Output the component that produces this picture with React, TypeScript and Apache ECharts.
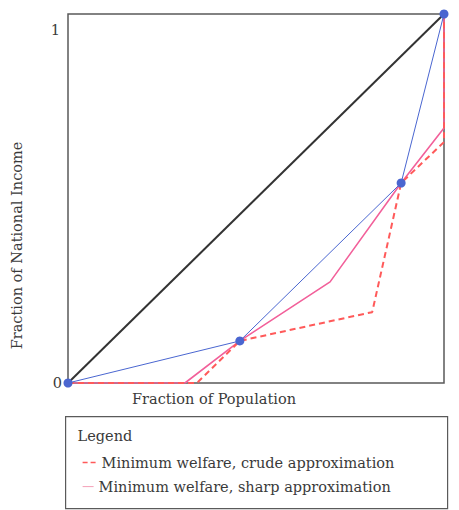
import React, { useEffect, useRef } from "react";
import * as echarts from "echarts";

// Lorenz-style curves: fraction of population (x) vs fraction of national income (y)
const equalityX = [0, 1];
const equalityY = [0, 1];

const observedX = [0, 0.457, 0.886, 1];
const observedY = [0, 0.114, 0.542, 1];

const sharpX = [0, 0.311, 0.457, 0.697, 0.886, 1, 1];
const sharpY = [0, 0, 0.114, 0.274, 0.542, 0.691, 1];

const crudeX = [0, 0.343, 0.457, 0.809, 0.886, 1, 1];
const crudeY = [0, 0, 0.114, 0.192, 0.542, 0.653, 1];

const yTicks = [0, 1];

const legendTitle = "Legend";
const crudeName = "Minimum welfare, crude approximation";
const sharpName = "Minimum welfare, sharp approximation";

const pairs = (xs: number[], ys: number[]) => xs.map((x, i) => [x, ys[i]]);

const FONT = "DejaVu Serif";
const FS = 14.5;
const TEXT = "#3a3a3a";
const BLUE = "#4a66d0";
const PINK = "#f2609a";
const RED = "#ff5a5a";

export default function App() {
  const ref = useRef<HTMLDivElement>(null);

  useEffect(() => {
    if (!ref.current) return;
    const chart = echarts.init(ref.current, undefined, { renderer: "svg" });
    const txt = (text: string, x: number, y: number) => ({
      type: "text",
      x,
      y,
      style: {
        text,
        fill: TEXT,
        fontFamily: FONT,
        fontSize: FS,
        verticalAlign: "middle",
      },
    });
    chart.setOption({
      animation: false,
      backgroundColor: "#ffffff",
      textStyle: { fontFamily: FONT },
      grid: {
        left: 68,
        top: 14,
        width: 376,
        height: 369,
        show: true,
        borderColor: "#5a5a5a",
        borderWidth: 1.5,
        backgroundColor: "transparent",
      },
      xAxis: {
        type: "value",
        min: 0,
        max: 1,
        axisLine: { show: false },
        axisTick: { show: false },
        axisLabel: { show: false },
        splitLine: { show: false },
        name: "Fraction of Population",
        nameLocation: "middle",
        nameGap: 8,
        nameTextStyle: {
          fontFamily: FONT,
          fontSize: FS,
          color: TEXT,
          verticalAlign: "top",
          padding: [0, 84, 0, 0],
        },
      },
      yAxis: {
        type: "value",
        min: 0,
        max: 1,
        interval: 1,
        axisLine: { show: false },
        axisTick: { show: false },
        splitLine: { show: false },
        axisLabel: {
          color: TEXT,
          fontFamily: FONT,
          fontSize: FS,
          margin: 6,
          formatter: (v: number) =>
            yTicks.includes(v) ? (v === 1 ? "{one|1}" : String(v)) : "",
          rich: {
            one: { fontFamily: FONT, fontSize: FS, color: TEXT, padding: [32, 2, 0, 0] },
          },
        },
        name: "Fraction of National Income",
        nameLocation: "middle",
        nameGap: 44,
        nameTextStyle: {
          fontFamily: FONT,
          fontSize: FS,
          color: TEXT,
          padding: [0, 94, 0, 0],
        },
      },
      series: [
        {
          name: "Equality",
          type: "line",
          data: pairs(equalityX, equalityY),
          symbol: "none",
          lineStyle: { color: "#333333", width: 2 },
          z: 2,
        },
        {
          name: sharpName,
          type: "line",
          data: pairs(sharpX, sharpY),
          symbol: "none",
          lineStyle: { color: PINK, width: 1.6 },
          z: 3,
        },
        {
          name: crudeName,
          type: "line",
          data: pairs(crudeX, crudeY),
          symbol: "none",
          lineStyle: { color: RED, width: 2, type: [6, 4] },
          z: 4,
        },
        {
          name: "Observed",
          type: "line",
          data: pairs(observedX, observedY),
          symbol: "circle",
          symbolSize: 9,
          itemStyle: { color: BLUE, borderWidth: 0 },
          lineStyle: { color: BLUE, width: 1 },
          z: 5,
        },
      ],
      graphic: [
        {
          type: "group",
          left: 65,
          top: 416,
          children: [
            {
              type: "rect",
              shape: { x: 0, y: 0, width: 382, height: 92 },
              style: { fill: "#ffffff", stroke: "#5a5a5a", lineWidth: 1.2 },
            },
            txt(legendTitle, 12, 19),
            {
              type: "line",
              shape: { x1: 17, y1: 46, x2: 30, y2: 46 },
              style: { stroke: RED, lineWidth: 1.5, lineDash: [5, 3] },
            },
            txt(crudeName, 36, 46),
            {
              type: "line",
              shape: { x1: 17, y1: 70, x2: 28, y2: 70 },
              style: { stroke: "#f4a0b8", lineWidth: 1 },
            },
            txt(sharpName, 33, 70),
          ],
        },
      ],
    });
    return () => chart.dispose();
  }, []);

  return (
    <div
      ref={ref}
      style={{ position: "fixed", left: 0, top: 0, width: 459, height: 510 }}
    />
  );
}
